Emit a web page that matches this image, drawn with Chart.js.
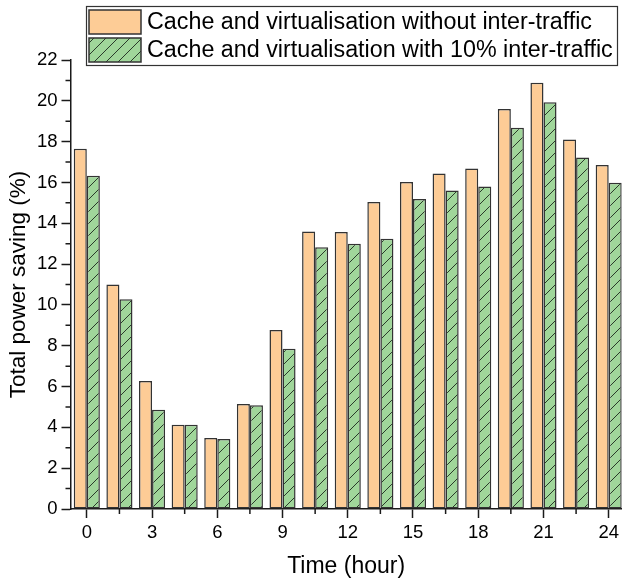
<!DOCTYPE html>
<html>
<head>
<meta charset="utf-8">
<script src="https://cdn.jsdelivr.net/npm/chart.js@4.4.1/dist/chart.umd.min.js"></script>
<style>
  html, body { margin: 0; padding: 0; background: #fff; overflow: hidden; }
  canvas { display: block; }
</style>
</head>
<body>
<canvas id="chart" width="623" height="581"></canvas>
<script>
// Hour of day for each bar group
const hours = [0, 1.5, 3, 4.5, 6, 7.5, 9, 10.5, 12, 13.5, 15, 16.5, 18, 19.5, 21, 22.5, 24];
// Total power saving (%)
const savingNoInterTraffic = [17.65, 11.0, 6.27, 4.13, 3.48, 5.15, 8.77, 13.6, 13.57, 15.04, 16.02, 16.44, 16.68, 19.6, 20.88, 18.1, 16.86];
const savingInterTraffic10 = [16.33, 10.28, 4.86, 4.13, 3.43, 5.08, 7.85, 12.82, 13.0, 13.24, 15.19, 15.6, 15.8, 18.68, 19.93, 17.22, 15.98];
const seriesNames = [
  'Cache and virtualisation without inter-traffic',
  'Cache and virtualisation with 10% inter-traffic'
];
// Axis ticks
const xMajorTicks = [0, 3, 6, 9, 12, 15, 18, 21, 24];
const xMinorTicks = [1.5, 4.5, 7.5, 10.5, 13.5, 16.5, 19.5, 22.5];
const yMajorTicks = [0, 2, 4, 6, 8, 10, 12, 14, 16, 18, 20, 22];
const yMinorTicks = [1, 3, 5, 7, 9, 11, 13, 15, 17, 19, 21];

const FONT = "'Liberation Sans', Arial, sans-serif";
const AXIS_COLOR = '#1a1a1a';
const ORANGE = '#FDCC96';
const GREEN = '#A0D69A';

const ctx = document.getElementById('chart').getContext('2d');

// Diagonal hatch fill for the second series
function makeHatch(bg, lineColor) {
  const s = 12;
  const tile = document.createElement('canvas');
  tile.width = s; tile.height = s;
  const g = tile.getContext('2d');
  g.fillStyle = bg;
  g.fillRect(0, 0, s, s);
  g.strokeStyle = lineColor;
  g.lineWidth = 1;
  g.beginPath();
  g.moveTo(-1, s + 1); g.lineTo(s + 1, -1);
  g.moveTo(-1, 1); g.lineTo(1, -1);
  g.moveTo(s - 1, s + 1); g.lineTo(s + 1, s - 1);
  g.stroke();
  return ctx.createPattern(tile, 'repeat');
}
const greenHatch = makeHatch(GREEN, '#2a3a2a');

const toPoints = (vals) => hours.map((h, i) => ({ x: h, y: vals[i] }));

// Minor ticks and the framed key
const extrasPlugin = {
  id: 'minorTicksAndKey',
  afterDraw(chart) {
    const c = chart.ctx;
    const { x, y } = chart.scales;
    const area = chart.chartArea;
    c.save();
    c.strokeStyle = AXIS_COLOR;
    c.lineWidth = 1.5;
    c.beginPath();
    xMinorTicks.forEach(v => {
      const px = x.getPixelForValue(v);
      c.moveTo(px, area.bottom);
      c.lineTo(px, area.bottom + 5);
    });
    yMinorTicks.forEach(v => {
      const py = y.getPixelForValue(v);
      c.moveTo(area.left, py);
      c.lineTo(area.left - 5, py);
    });
    c.stroke();

    // key box
    const bx = 86, by = 6, bw = 531, bh = 59;
    c.fillStyle = '#fff';
    c.fillRect(bx, by, bw, bh);
    c.strokeStyle = '#333';
    c.lineWidth = 1.2;
    c.strokeRect(bx + 0.5, by + 0.5, bw, bh);

    const rows = [
      { fill: ORANGE, y: 10 },
      { fill: greenHatch, y: 38 }
    ];
    chart.data.datasets.forEach((ds, i) => {
      const r = rows[i];
      c.fillStyle = r.fill;
      c.fillRect(89, r.y, 52, 24);
      c.strokeStyle = '#333';
      c.lineWidth = 1.5;
      c.strokeRect(89, r.y, 52, 24);
      c.fillStyle = '#000';
      c.font = '23.3px ' + FONT;
      c.textBaseline = 'middle';
      c.textAlign = 'left';
      c.fillText(ds.label, 147, r.y + 13);
    });
    c.restore();
  }
};

new Chart(ctx, {
  type: 'bar',
  data: {
    datasets: [
      {
        label: seriesNames[0],
        data: toPoints(savingNoInterTraffic),
        backgroundColor: ORANGE,
        borderColor: '#333',
        borderWidth: 1.5,
        borderSkipped: false
      },
      {
        label: seriesNames[1],
        data: toPoints(savingInterTraffic10),
        backgroundColor: greenHatch,
        borderColor: '#333',
        borderWidth: 1.5,
        borderSkipped: false
      }
    ]
  },
  options: {
    responsive: false,
    animation: false,
    devicePixelRatio: 1,
    categoryPercentage: 0.8,
    barPercentage: 1.0,
    layout: { padding: { top: 60, right: 0, left: 0, bottom: 0 } },
    plugins: {
      legend: { display: false },
      tooltip: { enabled: false }
    },
    scales: {
      x: {
        type: 'linear',
        offset: false,
        min: -0.75,
        max: 24.6,
        afterBuildTicks: (s) => { s.ticks = xMajorTicks.map(v => ({ value: v })); },
        afterFit: (s) => { s.height = 72; },
        grid: {
          drawOnChartArea: false,
          offset: false,
          tickLength: 9,
          tickColor: AXIS_COLOR,
          tickWidth: 1.5
        },
        border: { color: AXIS_COLOR, width: 1.5 },
        ticks: {
          color: '#000',
          font: { family: FONT, size: 18.5 },
          padding: 4,
          maxRotation: 0,
          autoSkip: false
        },
        title: {
          display: true,
          text: 'Time (hour)',
          color: '#000',
          font: { family: FONT, size: 23 },
          padding: { top: 0, bottom: 1 }
        }
      },
      y: {
        min: 0,
        max: 22,
        afterBuildTicks: (s) => { s.ticks = yMajorTicks.map(v => ({ value: v })); },
        afterFit: (s) => { s.width = 70.5; },
        grid: {
          drawOnChartArea: false,
          tickLength: 9,
          tickColor: AXIS_COLOR,
          tickWidth: 1.5
        },
        border: { color: AXIS_COLOR, width: 1.5 },
        ticks: {
          color: '#000',
          font: { family: FONT, size: 18.5 },
          padding: 4,
          autoSkip: false
        },
        title: {
          display: true,
          text: 'Total power saving (%)',
          color: '#000',
          font: { family: FONT, size: 22.5 },
          padding: { top: 5, bottom: 0 }
        }
      }
    }
  },
  plugins: [extrasPlugin]
});
</script>
</body>
</html>
